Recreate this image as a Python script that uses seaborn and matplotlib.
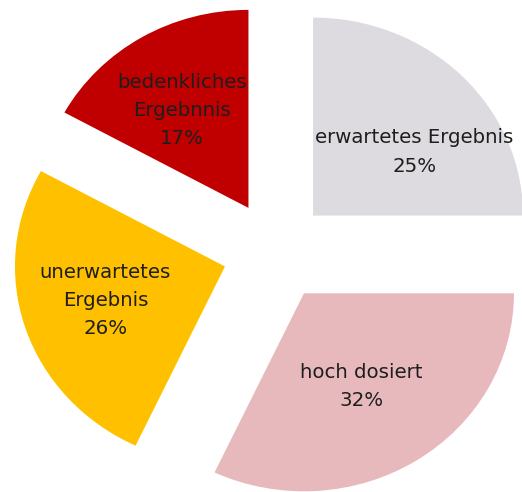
import matplotlib
matplotlib.use("Agg")
import matplotlib.pyplot as plt
import seaborn as sns

# data
categories = ["erwartetes Ergebnis", "hoch dosiert", "unerwartetes\nErgebnis", "bedenkliches\nErgebnnis"]
shares = [25, 32, 26, 17]
slice_colors = ["#DDDBDF", "#E8B9BC", "#FFC000", "#C00000"]

# label centres (data units, relative to pie centre) - layout only
label_pos = [(0.66, 0.50), (0.41, -0.685), (-0.81, -0.25), (-0.445, 0.71)]

sns.set_style("white")
plt.rcParams["font.family"] = ["DejaVu Sans"]

fig = plt.figure(figsize=(5.22, 4.92), dpi=100)
ax = fig.add_axes([0, 0, 1, 1])

palette = sns.color_palette(slice_colors)
wedges, _ = ax.pie(shares, colors=palette, startangle=90, counterclock=False,
                   explode=[0.253] * len(shares), radius=1,
                   wedgeprops=dict(linewidth=0))

for cat, val, (x, y) in zip(categories, shares, label_pos):
    ax.text(x, y, f"{cat}\n{val}%", ha="center", va="center", fontsize=14.2,
            color="#1e1e1e", linespacing=1.62)

# reference is slightly stretched horizontally
ax.set_aspect("auto")
ax.set_xlim(-275.5 / 210, (522 - 275.5) / 210)
ax.set_ylim(-(492 - 251) / 198, 251 / 198)
ax.axis("off")

fig.savefig("out.png", dpi=100)
